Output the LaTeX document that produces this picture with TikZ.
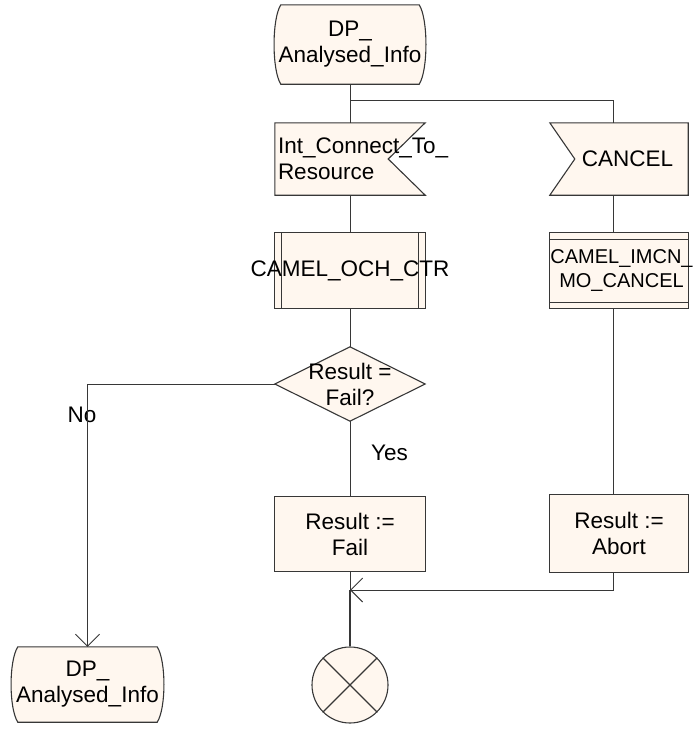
\documentclass[tikz,border=0pt]{standalone}
\usepackage{fontspec}
\setmainfont{Liberation Sans}
\usetikzlibrary{arrows.meta,calc}
\definecolor{boxfill}{RGB}{255,247,239}
\definecolor{ink}{RGB}{55,55,55}
\pgfdeclarelayer{bg}
\pgfsetlayers{bg,main}
\tikzset{
  txt/.style={font=\fontsize{22.5}{26}\selectfont, align=center, inner sep=0pt, text=black},
  smalltxt/.style={font=\fontsize{20}{24}\selectfont, align=center, inner sep=0pt, text=black},
  shapebox/.style={draw=ink, fill=boxfill, line width=1.1pt, line join=miter},
  conn/.style={draw=ink, line width=0.9pt},
  tip/.style={-{Straight Barb[length=12pt,width=24pt,line width=0.9pt]}}
}
\begin{document}
\begin{tikzpicture}[x=1pt,y=-1pt]
\useasboundingbox (0,0) rectangle (695,736);
% ---- nodes
\node[txt, minimum width=150pt, minimum height=79pt] (s1) at (350,44.5) {DP\_\\\makebox[150pt][c]{Analysed\_Info}};
\node[txt, minimum width=150pt, minimum height=72pt] (ic) at (350,159)
  {\makebox[144pt][l]{Int\_Connect\_To\_}\\\makebox[144pt][l]{Resource}};
\node[txt, minimum width=138pt, minimum height=72pt] (cancel) at (619,159)
  {\makebox[138pt][c]{\hspace{17pt}CANCEL}};
\node[txt, minimum width=150pt, minimum height=75pt] (och) at (350,270.5)
  {\makebox[150pt][c]{CAMEL\_OCH\_CTR}};
\node[smalltxt, minimum width=138pt, minimum height=75pt] (imcn) at (619,270.5)
  {\makebox[138pt][c]{\hspace{5pt}CAMEL\_IMCN\_}\\\makebox[138pt][c]{\hspace{5pt}MO\_CANCEL}};
\node[txt, minimum width=150pt, minimum height=74pt] (dia) at (350,384) {Result =\\Fail?};
\node[txt, minimum width=150pt, minimum height=74pt] (fail) at (350,534) {Result :=\\Fail};
\node[txt, minimum width=138pt, minimum height=77pt] (abort) at (619,533.5) {Result :=\\Abort};
\node[txt, minimum width=151pt, minimum height=75pt] (s2) at (87.5,684.5) {DP\_\\\makebox[151pt][c]{Analysed\_Info}};
\node[circle, draw=ink, fill=boxfill, line width=1.1pt, minimum size=76pt, inner sep=0pt] (stop) at (350,685) {};
\node[txt] (no) at (82,415) {No};
\node[txt, anchor=west] (yes) at (371,453) {Yes};
% ---- shapes behind the texts
\begin{pgfonlayer}{bg}
  \foreach \n in {s1,s2}{
    \path[shapebox] ($(\n.north west)+(6,0)$) -- ($(\n.north east)+(-6,0)$)
      .. controls +(9,14) and +(9,-14) .. ($(\n.south east)+(-6,0)$)
      -- ($(\n.south west)+(6,0)$)
      .. controls +(-9,-14) and +(-9,14) .. ($(\n.north west)+(6,0)$) -- cycle;
  }
  \path[shapebox] (ic.north west) -- (ic.north east) -- ($(ic.east)+(-37,0)$)
      -- (ic.south east) -- (ic.south west) -- cycle;
  \path[shapebox] (cancel.north west) -- (cancel.north east) -- (cancel.south east)
      -- (cancel.south west) -- ($(cancel.west)+(25,0)$) -- cycle;
  \path[shapebox] (och.north west) rectangle (och.south east);
  \draw[draw=ink, line width=1.1pt] ($(och.north west)+(7,0)$) -- ($(och.south west)+(7,0)$);
  \draw[draw=ink, line width=1.1pt] ($(och.north east)+(-7,0)$) -- ($(och.south east)+(-7,0)$);
  \path[shapebox] (imcn.north west) rectangle (imcn.south east);
  \draw[draw=ink, line width=1.1pt] ($(imcn.north west)+(0,7)$) -- ($(imcn.north east)+(0,7)$);
  \draw[draw=ink, line width=1.1pt] ($(imcn.south west)+(0,-6)$) -- ($(imcn.south east)+(0,-6)$);
  \path[shapebox] (dia.north) -- (dia.east) -- (dia.south) -- (dia.west) -- cycle;
  \path[shapebox] (fail.north west) rectangle (fail.south east);
  \path[shapebox] (abort.north west) rectangle (abort.south east);
\end{pgfonlayer}
\draw[draw=ink, line width=1.1pt] (stop.north west) -- (stop.south east);
\draw[draw=ink, line width=1.1pt] (stop.north east) -- (stop.south west);
% ---- connectors
\coordinate (j1) at (350,100);
\coordinate (rx) at (613,0);
\coordinate (j2) at (350,590);
\draw[conn] (s1.south) -- (ic.north);
\draw[conn] (j1) -| (rx |- cancel.north);
\draw[conn] (ic.south) -- (och.north);
\draw[conn] (och.south) -- (dia.north);
\draw[conn] (dia.south) -- (fail.north);
\draw[conn,tip] (dia.west) -| (s2.north);
\draw[conn] (rx |- cancel.south) -- (rx |- imcn.north);
\draw[conn] (rx |- imcn.south) -- (rx |- abort.north);
\draw[conn,tip] (rx |- abort.south) |- (j2);
\draw[conn] (fail.south) -- (j2);
\draw[conn, line width=1.8pt] (j2) -- (stop.north);
\end{tikzpicture}
\end{document}
